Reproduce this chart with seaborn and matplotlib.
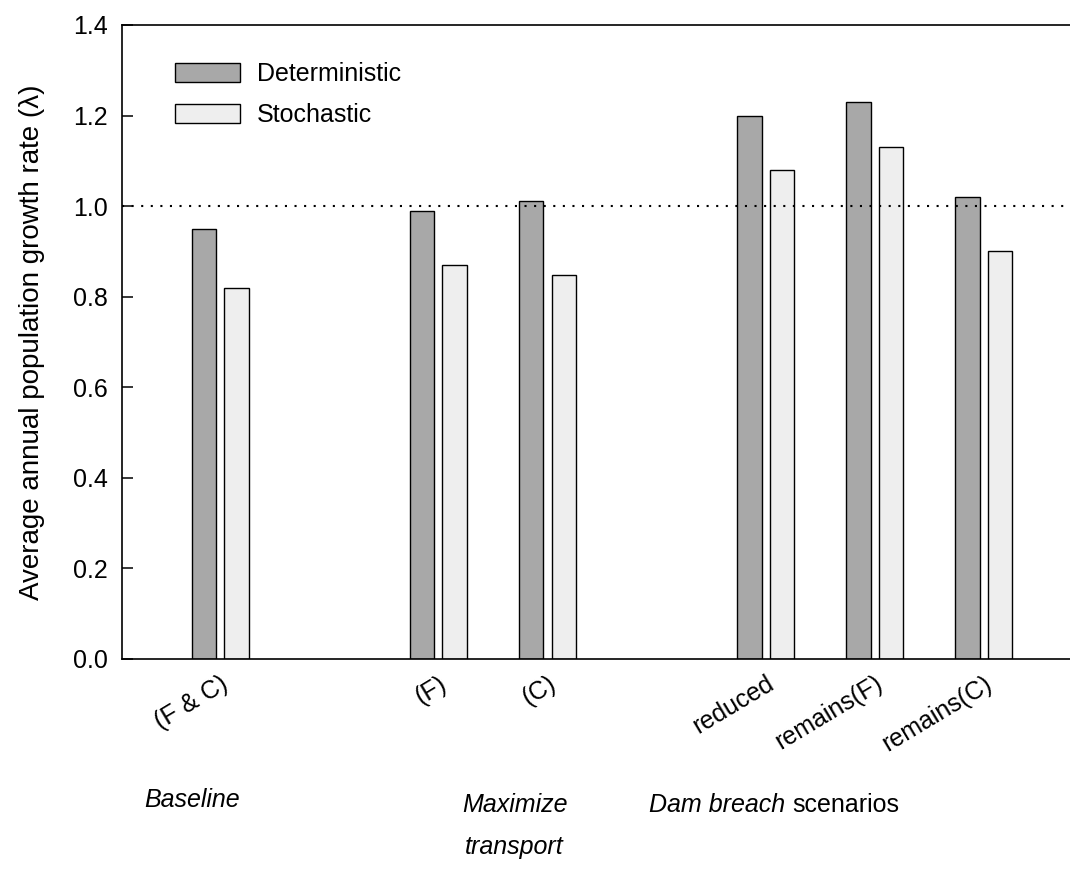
import numpy as np
import pandas as pd
import matplotlib
matplotlib.use("Agg")
import matplotlib.pyplot as plt
import matplotlib.transforms as mtransforms
import seaborn as sns

# ---- data ----
categories = ["(F & C)", "(F)", "(C)", "reduced", "remains(F)", "remains(C)"]
positions = [0, 2, 3, 5, 6, 7]
deterministic = [0.95, 0.99, 1.012, 1.20, 1.23, 1.02]
stochastic = [0.82, 0.87, 0.848, 1.08, 1.13, 0.90]
series_names = ["Deterministic", "Stochastic"]
yticks = [0.0, 0.2, 0.4, 0.6, 0.8, 1.0, 1.2, 1.4]

sns.set_theme(style="white")
plt.rcParams["font.family"] = ["Liberation Sans", "DejaVu Sans"]
plt.rcParams.update({"text.color": "black", "axes.labelcolor": "black",
                     "xtick.color": "black", "ytick.color": "black"})

df = pd.DataFrame({
    "pos": positions * 2,
    "value": deterministic + stochastic,
    "model": [series_names[0]] * len(positions) + [series_names[1]] * len(positions),
})

fig = plt.figure(figsize=(10.70, 8.82), dpi=100)
ax = fig.add_axes([122 / 1070, 1 - 659 / 882, 1 - 122 / 1070, (659 - 25) / 882])

sns.barplot(data=df, x="pos", y="value", hue="model", hue_order=series_names,
            native_scale=True, palette=["#a8a8a8", "#eeeeee"],
            width=0.6, gap=0.25, edgecolor="black", linewidth=1.0,
            ax=ax, legend=True)

ax.axhline(1.0, color="black", linestyle=(0, (1, 3.6)), lw=1.5, zorder=10)

ax.set_xlim(-0.9, 7.79)
ax.set_ylim(0, 1.4)
ax.set_yticks(yticks)
ax.set_yticklabels([f"{v:.1f}" for v in yticks], fontsize=18)
ax.set_xticks(positions)
ax.set_xticklabels(categories, fontsize=18, rotation=31,
                   ha="right", va="top", rotation_mode="anchor")
ax.tick_params(axis="x", length=0, pad=9)
ax.tick_params(axis="y", direction="in", length=8, width=1.1, left=True, pad=10)
ax.set_xlabel("")
ax.set_ylabel("Average annual population growth rate (λ)", fontsize=20, labelpad=20)

for s in ["left", "top", "bottom"]:
    ax.spines[s].set_visible(True)
    ax.spines[s].set_color("black")
    ax.spines[s].set_linewidth(1.2)
ax.spines["right"].set_visible(False)

leg = ax.legend(loc="upper left", bbox_to_anchor=(0.0559, 0.942), frameon=False,
                fontsize=18, handlelength=2.6, handleheight=0.8,
                handletextpad=0.68, labelspacing=0.68, borderpad=0,
                borderaxespad=0)

# group labels below the axis
trans = mtransforms.blended_transform_factory(ax.transData, ax.transAxes)
ax.text(-0.26, -0.222, "Baseline", transform=trans, ha="center", va="center",
        fontsize=18, style="italic")
ax.text(2.70, -0.230, "Maximize", transform=trans, ha="center", va="center",
        fontsize=18, style="italic")
ax.text(2.70, -0.296, "transport", transform=trans, ha="center", va="center",
        fontsize=18, style="italic")
ax.text(5.18, -0.230, "Dam breach", transform=trans, ha="right", va="center",
        fontsize=18, style="italic")
ax.text(5.24, -0.230, "scenarios", transform=trans, ha="left", va="center",
        fontsize=18)

fig.savefig("out.png", dpi=100)
